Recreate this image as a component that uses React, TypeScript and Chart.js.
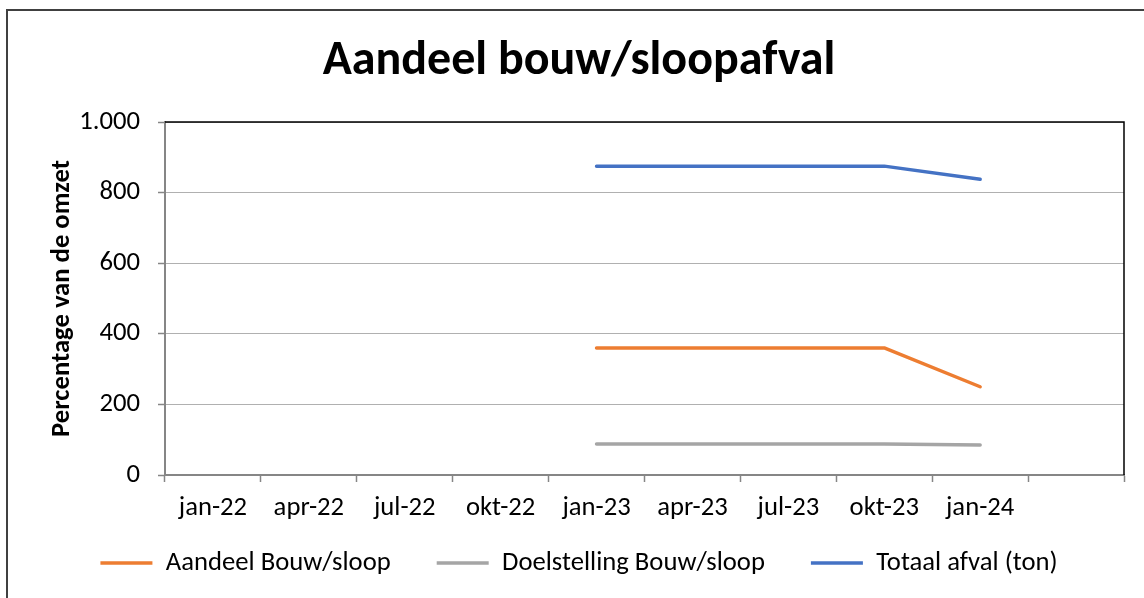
import React, { useEffect, useRef } from 'react';
import { Chart, registerables } from 'chart.js';

Chart.register(...registerables);

// Monthly category axis (date axis in the original)
const MONTHS = [
  'dec-21', 'jan-22', 'feb-22', 'mrt-22', 'apr-22', 'mei-22', 'jun-22', 'jul-22', 'aug-22', 'sep-22',
  'okt-22', 'nov-22', 'dec-22', 'jan-23', 'feb-23', 'mrt-23', 'apr-23', 'mei-23', 'jun-23', 'jul-23',
  'aug-23', 'sep-23', 'okt-23', 'nov-23', 'dec-23', 'jan-24', 'feb-24', 'mrt-24', 'apr-24', 'mei-24',
];
const X_TICK_MONTHS = ['jan-22', 'apr-22', 'jul-22', 'okt-22', 'jan-23', 'apr-23', 'jul-23', 'okt-23', 'jan-24', 'apr-24'];
const X_TICK_LABELS = ['jan-22', 'apr-22', 'jul-22', 'okt-22', 'jan-23', 'apr-23', 'jul-23', 'okt-23', 'jan-24'];

const DATA_MONTHS = ['jan-23', 'okt-23', 'jan-24'];
const AANDEEL = [360, 360, 250];
const DOELSTELLING = [88, 88, 85];
const TOTAAL = [875, 875, 838];

const Y_TICKS = [0, 200, 400, 600, 800, 1000];

const SERIES_NAMES = ['Aandeel Bouw/sloop', 'Doelstelling Bouw/sloop', 'Totaal afval (ton)'];
const COLORS = ['#ED7D31', '#A5A5A5', '#4472C4'];

const FONT = 'Carlito, Calibri, Lato, "Noto Sans", sans-serif';

function fmtNl(v: number): string {
  const s = String(Math.round(v));
  return s.replace(/\B(?=(\d{3})+(?!\d))/g, '.');
}

const framePlugin = {
  id: 'frame',
  beforeLayout(chart: any) {
    const lg = chart.legend;
    if (lg && !lg._fitPatched) {
      const orig = lg.fit.bind(lg);
      lg.fit = function () {
        orig();
        if (this.isHorizontal()) this.height = 74;
      };
      lg._fitPatched = true;
    }
  },
  afterLayout(chart: any) {
    const lg = chart.legend;
    if (lg) {
      lg.top -= 20.3;
      lg.bottom -= 20.3;
    }
  },
  beforeDraw(chart: any) {
    const ctx = chart.ctx;
    ctx.save();
    ctx.strokeStyle = '#404040';
    ctx.lineWidth = 2;
    ctx.beginPath();
    ctx.moveTo(7, chart.height + 10);
    ctx.lineTo(7, 10);
    ctx.lineTo(chart.width + 10, 10);
    ctx.stroke();
    ctx.restore();
  },
  beforeDatasetsDraw(chart: any) {
    const { ctx, chartArea } = chart;
    ctx.save();
    ctx.strokeStyle = '#000000';
    ctx.lineWidth = 1.5;
    ctx.beginPath();
    ctx.moveTo(chartArea.left, chartArea.top);
    ctx.lineTo(chartArea.right, chartArea.top);
    ctx.lineTo(chartArea.right, chartArea.bottom);
    ctx.stroke();
    ctx.restore();
  },
};

export default function App() {
  const ref = useRef<HTMLCanvasElement | null>(null);

  useEffect(() => {
    if (!ref.current) return;
    const series = [AANDEEL, DOELSTELLING, TOTAAL];
    const chart = new Chart(ref.current, {
      type: 'line',
      data: {
        labels: MONTHS,
        datasets: series.map((vals, si) => ({
          label: SERIES_NAMES[si],
          data: DATA_MONTHS.map((m, i) => ({ x: m, y: vals[i] })),
          borderColor: COLORS[si],
          backgroundColor: COLORS[si],
          borderWidth: 3.5,
          borderCapStyle: 'round',
          borderJoinStyle: 'round',
          pointRadius: 0,
          pointHoverRadius: 0,
          tension: 0,
          fill: false,
        })),
      },
      options: {
        animation: false,
        responsive: true,
        maintainAspectRatio: false,
        layout: { padding: { left: 34, right: 20, top: 0, bottom: 0 } },
        plugins: {
          tooltip: { enabled: false },
          title: {
            display: true,
            text: 'Aandeel bouw/sloopafval',
            color: '#000',
            font: { family: FONT, size: 48, weight: 'bold' },
            padding: { top: 33.6, bottom: 30.8 },
          },
          legend: {
            position: 'bottom',
            labels: {
              color: '#000',
              font: { family: FONT, size: 26.67 },
              usePointStyle: true,
              pointStyle: 'line',
              pointStyleWidth: 52,
              padding: 46,
            },
          },
        },
        scales: {
          x: {
            type: 'category',
            offset: true,
            afterBuildTicks: (scale: any) => {
              scale.ticks = scale.ticks.filter((t: any) => X_TICK_MONTHS.includes(MONTHS[t.value]));
            },
            afterFit: (scale: any) => {
              scale.height = 49;
            },
            grid: {
              offset: true,
              drawOnChartArea: false,
              drawTicks: true,
              tickLength: 7,
              tickColor: '#868686',
              tickWidth: 1.5,
            },
            border: { color: '#868686', width: 2 },
            ticks: {
              autoSkip: false,
              maxRotation: 0,
              padding: 10,
              color: '#000',
              font: { family: FONT, size: 26.67 },
              callback: function (this: any, value: any) {
                const lab = MONTHS[value as number];
                return X_TICK_LABELS.includes(lab) ? lab : '';
              },
            },
          },
          y: {
            min: 0,
            max: 1000,
            afterBuildTicks: (scale: any) => {
              scale.ticks = Y_TICKS.map((v) => ({ value: v }));
            },
            afterFit: (scale: any) => {
              scale.width = 131;
            },
            grid: {
              color: '#B0B0B0',
              lineWidth: 1,
              tickLength: 7,
              tickColor: '#868686',
              tickWidth: 1.5,
            },
            border: { color: '#868686', width: 2 },
            ticks: {
              padding: 18,
              color: '#000',
              font: { family: FONT, size: 26.67 },
              callback: (value: any) => fmtNl(Number(value)),
            },
            title: {
              display: true,
              text: 'Percentage van de omzet',
              color: '#000',
              font: { family: FONT, size: 26.67, weight: 'bold' },
              padding: { top: 12, bottom: 0 },
            },
          },
        },
      },
      plugins: [framePlugin],
    } as any);
    return () => chart.destroy();
  }, []);

  return (
    <div style={{ position: 'absolute', left: 0, top: 0, width: 1144, height: 598, background: '#fff' }}>
      <canvas ref={ref} />
    </div>
  );
}
